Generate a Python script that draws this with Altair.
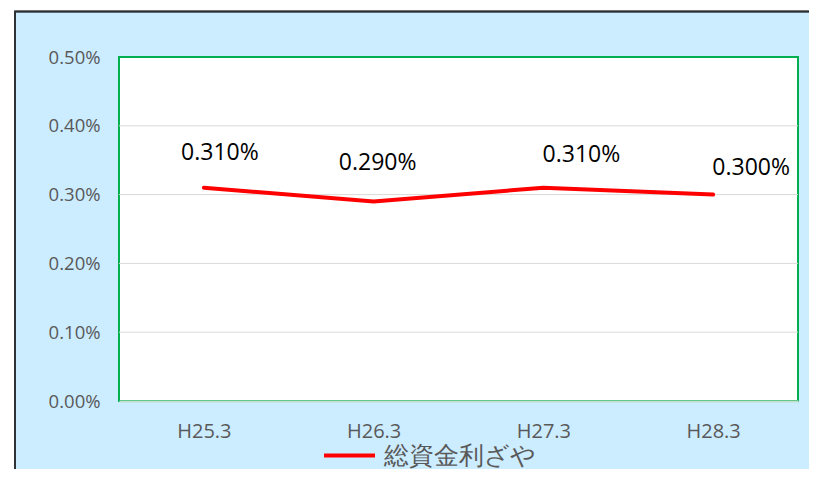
import altair as alt
import pandas as pd

periods = ["H25.3", "H26.3", "H27.3", "H28.3"]
values = [0.0031, 0.0029, 0.0031, 0.0030]
series_name = "総資金利ざや"
grid_values = [0.001, 0.002, 0.003, 0.004]
y_ticks = [0.0, 0.001, 0.002, 0.003, 0.004, 0.005]

df = pd.DataFrame({"period": periods, "value": values, "series": [series_name] * len(periods)})
grid_df = pd.DataFrame({"g": grid_values})

W, H = 679, 344
FONT = "Open Sans"

xenc = alt.X("period:O", sort=periods, title=None,
             axis=alt.Axis(labelAngle=0, labelFontSize=20, labelColor="#595959",
                           labelFont=FONT, ticks=False, labelPadding=20,
                           domainColor="#C3DFCB", domainWidth=2))
yscale = alt.Scale(domain=[0, 0.005])

base = alt.Chart(df)

grid = alt.Chart(grid_df).mark_rule(color="#D9D9D9", strokeWidth=1).encode(
    y=alt.Y("g:Q", scale=yscale, title=None,
            axis=alt.Axis(values=y_ticks, format=".2%", labelFontSize=18.5,
                          labelColor="#595959", labelFont=FONT, ticks=False,
                          domain=False, grid=False, labelPadding=19)),
)

line = base.mark_line(strokeWidth=4, strokeCap="round").encode(
    x=xenc,
    y=alt.Y("value:Q", scale=yscale),
    color=alt.Color("series:N", scale=alt.Scale(range=["#FF0000"]), title=None,
                    legend=alt.Legend(orient="none", legendX=203, legendY=371,
                                      symbolType="stroke", symbolSize=2601,
                                      symbolStrokeWidth=4, labelFontSize=25,
                                      labelFont=FONT, labelColor="#595959",
                                      labelOffset=7, padding=0)),
)

offsets = [(16, -35), (4, -38), (38, -33), (38, -27)]
labels = []
for p, (dx, dy) in zip(periods, offsets):
    labels.append(
        base.transform_filter(alt.datum.period == p).mark_text(
            fontSize=23, font=FONT, color="#000000", dx=dx, dy=dy
        ).encode(
            x=alt.X("period:O", sort=periods),
            y=alt.Y("value:Q", scale=yscale),
            text=alt.Text("value:Q", format=".3%"),
        )
    )

# decoration outside the plot area: white page strip and dark frame edge
deco_white_left = alt.Chart(df).mark_rect(color="white").encode(
    x=alt.value(-112), x2=alt.value(-104.5), y=alt.value(-50), y2=alt.value(420))
deco_white_top = alt.Chart(df).mark_rect(color="white").encode(
    x=alt.value(-112), x2=alt.value(700), y=alt.value(-50), y2=alt.value(-45.5))
frame_left = alt.Chart(df).mark_rule(color="#2E3236", strokeWidth=1.5).encode(
    x=alt.value(-104), y=alt.value(-46), y2=alt.value(420))
frame_top = alt.Chart(df).mark_rule(color="#2E3236", strokeWidth=1.5).encode(
    x=alt.value(-104.7), x2=alt.value(700), y=alt.value(-45.5))

chart = alt.layer(
    deco_white_left, deco_white_top, frame_left, frame_top,
    grid, line, *labels
).properties(
    width=W, height=H,
    autosize=alt.AutoSizeParams(type="none"),
    padding={"left": 111, "top": 49, "right": 11, "bottom": 68},
    background="#CCECFF",
).configure_view(
    fill="white", stroke="#00B050", strokeWidth=2
)

chart.save("out.html", embed_options={"renderer": "svg", "actions": False})
